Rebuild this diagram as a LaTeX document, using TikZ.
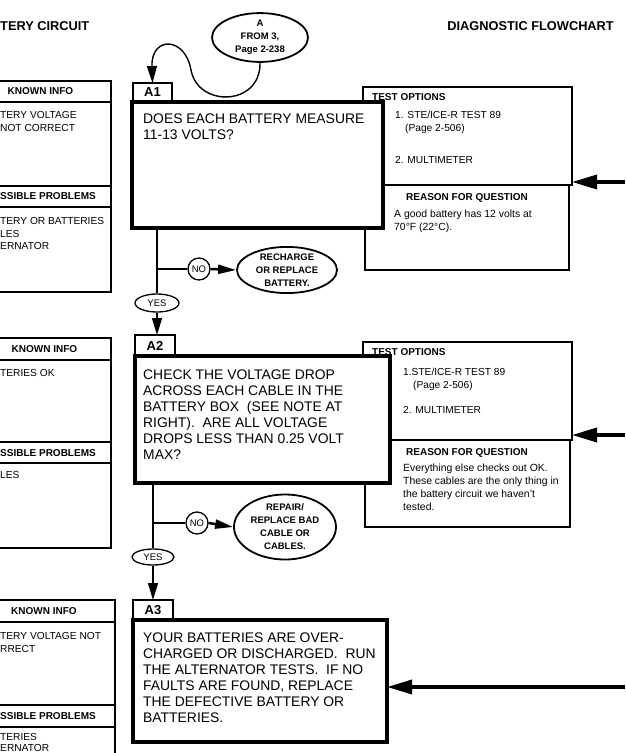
\documentclass[tikz,border=0pt]{standalone}
\usepackage{fontspec}
\setmainfont{Liberation Sans}
\usetikzlibrary{arrows.meta,shapes.geometric}
\newcommand{\fMain}{\fontsize{13.9}{16}\selectfont}
\newcommand{\fSmall}{\fontsize{10.2}{12.5}\selectfont}
\newcommand{\fReason}{\fontsize{10.4}{13}\selectfont}
\newcommand{\fHead}{\bfseries\fontsize{10}{12}\selectfont}
\newcommand{\fOval}{\bfseries\fontsize{9.5}{13}\selectfont}
\newcommand{\fTitle}{\bfseries\fontsize{12.8}{14}\selectfont}
\newcommand{\fLab}{\bfseries\fontsize{13}{14}\selectfont}
\tikzset{
  sz/.style 2 args={minimum width=#1, minimum height=#2},
  rbox/.style={draw, line width=1.2pt, fill=white, anchor=north west, inner sep=0pt, outer sep=0pt},
  tbox/.style={draw, line width=1.6pt, fill=white, anchor=north west, inner sep=0pt, outer sep=0pt},
  mainbox/.style={draw, line width=4pt, fill=white, anchor=north west, inner sep=0pt, outer sep=0pt},
  labbox/.style={draw, line width=1.4pt, fill=white, anchor=north west, inner sep=0pt, outer sep=0pt, font=\fLab},
  txt/.style={anchor=north west, inner sep=0pt, align=left},
  oval/.style={draw, ellipse, line width=1.8pt, inner sep=0pt, align=center, font=\fOval},
  yesoval/.style={draw, ellipse, line width=1.3pt, inner sep=0pt, font=\fontsize{9.5}{11}\selectfont},
  nocirc/.style={draw, circle, line width=1.3pt, inner sep=0pt, minimum size=22, font=\fontsize{9.5}{11}\selectfont},
  arrA/.style={-{Triangle[length=17pt,width=10pt]}, line width=1.4pt},
  arrNo/.style={-{Triangle[length=18pt,width=9pt]}, line width=2.5pt},
  arrIn/.style={-{Triangle[length=25pt,width=14pt]}, line width=3.5pt},
  trunk/.style={line width=1.5pt}
}
\begin{document}
\begin{tikzpicture}[x=1pt,y=-1pt]
\useasboundingbox (0,0) rectangle (625,753);
\clip (0,0) rectangle (625,753);
\fill[white] (0,0) rectangle (625,753);

% titles
\node[anchor=west, inner sep=0pt, font=\fTitle] (t1) at (0,26) {TERY CIRCUIT};
\node[anchor=east, inner sep=0pt, font=\fTitle] (t2) at (614,26) {DIAGNOSTIC FLOWCHART};

% ---------- left column ----------
\node[rbox, sz={141}{21}, font=\fHead] (K1h) at (-30,81) {KNOWN INFO};
\node[rbox, sz={141}{84}] (K1b) at (-30,102) {};
\node[rbox, sz={141}{21}] (K1p) at (-30,186) {};
\node[rbox, sz={141}{85}] (K1q) at (-30,207) {};
\node[txt, font=\fHead] (K1pt) at (0,192.4) {SSIBLE PROBLEMS};
\node[txt, font=\fSmall] (K1t) at (0,111.3) {TERY VOLTAGE\\NOT CORRECT};
\node[txt, font=\fSmall, text depth=0pt] (K1u) at (0,217.3) {TERY OR BATTERIES\\LES\\ERNATOR};

\node[rbox, sz={133}{22}, font=\fHead] (K2h) at (-22,338) {KNOWN INFO};
\node[rbox, sz={133}{82}] (K2b) at (-22,360) {};
\node[rbox, sz={133}{21}] (K2p) at (-22,442) {};
\node[rbox, sz={133}{85}] (K2q) at (-22,463) {};
\node[txt, font=\fHead] (K2pt) at (0,448.9) {SSIBLE PROBLEMS};
\node[txt, font=\fSmall] (K2t) at (0,369.3) {TERIES OK};
\node[txt, font=\fSmall] (K2u) at (0,471.3) {LES};

\node[rbox, sz={142}{22}, font=\fHead] (K3h) at (-27,600) {KNOWN INFO};
\node[rbox, sz={142}{83}] (K3b) at (-27,622) {};
\node[rbox, sz={142}{22}] (K3p) at (-27,705) {};
\node[rbox, sz={142}{60}] (K3q) at (-27,727) {};
\node[txt, font=\fHead] (K3pt) at (0,712.4) {SSIBLE PROBLEMS};
\node[txt, font=\fSmall] (K3t) at (0,632.3) {TERY VOLTAGE NOT\\RRECT};
\node[txt, font=\fontsize{10.2}{11}\selectfont] (K3u) at (0,733.6) {TERIES\\ERNATOR};

% ---------- right test boxes ----------
\node[rbox, sz={204}{85}] (R1b) at (365,185) {};
\node[tbox, sz={209}{98}] (T1) at (363,87) {};
\node[rbox, sz={205}{87}] (R2b) at (365,440) {};
\node[tbox, sz={209}{98}] (T2) at (363,342) {};

% ---------- A1 ----------
\node[oval, minimum width=96, minimum height=45] (A) at (260,37.5) {A\\FROM 3,\\Page 2-238};
\node[labbox, sz={39}{19}] (A1lab) at (133,83) {A1};
\node[mainbox, sz={251}{126}] (A1) at (132,102) {};
\node[txt, font=\fMain] (A1t) at (143,114) {DOES EACH BATTERY MEASURE\\11-13 VOLTS?};

\node[txt, font=\fHead] (T1h) at (372,93.4) {TEST OPTIONS};
\node[txt, font=\fSmall, text depth=0pt] (T1a) at (395,111.3) {1. STE/ICE-R TEST 89\\\hspace*{10pt}(Page 2-506)};
\node[txt, font=\fSmall] (T1b) at (395,156.3) {2. MULTIMETER};
\node[anchor=north, inner sep=0pt, font=\fHead] (R1h) at (467,193.4) {REASON FOR QUESTION};
\node[txt, font=\fReason] (R1t) at (394,209.3) {A good battery has 12 volts at\\70°F (22°C).};

\coordinate (in1) at (625,182);
\draw[arrIn] (in1) -- (in1 -| T1.east);

\node[yesoval, minimum width=44, minimum height=18] (YES1) at (157,303) {YES};
\node[nocirc] (NO1) at (199,269) {NO};
\node[oval, minimum width=100, minimum height=46] (RR1) at (287,270) {RECHARGE\\OR REPLACE\\BATTERY.};
\draw[trunk] (YES1.north |- A1.south) -- (YES1.north);
\draw[trunk] (YES1.north |- NO1.west) -- (NO1.west);
\draw[arrNo] (NO1.east) -- (RR1.west);
\draw[arrA] (A.south) .. controls (261,106) and (198,108) .. (191,70)
            .. controls (185,36) and (151,36) .. (A1lab.north);
\draw[arrA] (YES1.south) -- (YES1.south |- 0,335);

% ---------- A2 ----------
\node[labbox, sz={40}{21}] (A2lab) at (135,335) {A2};
\node[mainbox, sz={255}{127}] (A2) at (135,356) {};
\node[txt, font=\fMain] (A2t) at (143,370) {CHECK THE VOLTAGE DROP\\ACROSS EACH CABLE IN THE\\BATTERY BOX\ \ (SEE NOTE AT\\RIGHT).\ \ ARE ALL VOLTAGE\\DROPS LESS THAN 0.25 VOLT\\MAX?};

\node[txt, font=\fHead] (T2h) at (372,348.4) {TEST OPTIONS};
\node[txt, font=\fSmall, text depth=0pt] (T2a) at (403,368.3) {1.STE/ICE-R TEST 89\\\hspace*{10pt}(Page 2-506)};
\node[txt, font=\fSmall] (T2b) at (403,406.4) {2. MULTIMETER};
\node[anchor=north, inner sep=0pt, font=\fHead] (R2h) at (467,448.4) {REASON FOR QUESTION};
\node[txt, font=\fReason] (R2t) at (403,463.4) {Everything else checks out OK.\\These cables are the only thing in\\the battery circuit we haven't\\tested.};

\coordinate (in2) at (625,435);
\draw[arrIn] (in2) -- (in2 -| T2.east);

\node[yesoval, minimum width=42, minimum height=16] (YES2) at (153,557) {YES};
\node[nocirc] (NO2) at (197,523) {NO};
\node[oval, minimum width=102, minimum height=56] (RR2) at (285,527) {REPAIR/\\REPLACE BAD\\CABLE OR\\CABLES.};
\draw[trunk] (YES2.north |- A2.south) -- (YES2.north);
\draw[trunk] (YES2.north |- NO2.west) -- (NO2.west);
\draw[arrNo] (NO2.east) -- (RR2.west);
\draw[arrA] (YES2.south) -- (YES2.south |- 0,600);

% ---------- A3 ----------
\node[labbox, sz={40}{20}] (A3lab) at (133,600) {A3};
\node[mainbox, sz={254}{122}] (A3) at (133,620) {};
\node[txt, font=\fMain] (A3t) at (143,633) {YOUR BATTERIES ARE OVER-\\CHARGED OR DISCHARGED.\ \ RUN\\THE ALTERNATOR TESTS.\ \ IF NO\\FAULTS ARE FOUND, REPLACE\\THE DEFECTIVE BATTERY OR\\BATTERIES.};

\coordinate (in3) at (625,687);
\draw[arrIn] (in3) -- (in3 -| A3.east);
\end{tikzpicture}
\end{document}
